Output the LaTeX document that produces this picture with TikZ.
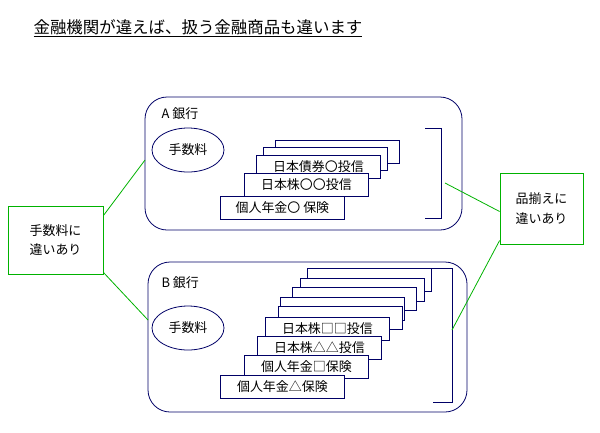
\documentclass[tikz,border=0pt]{standalone}
\usepackage{fontspec}
\setmainfont{Noto Sans CJK JP}
\usetikzlibrary{arrows.meta}
\begin{document}
\begin{tikzpicture}[x=1bp,y=-1bp,
    bank/.style={draw=blue!40!black, thick, rounded corners=22bp},
    prod/.style={draw=blue!40!black, thick, fill=white, minimum width=124bp, minimum height=23bp, inner sep=0pt, font=\fontsize{13}{13}\selectfont},
    note/.style={draw=green!70!black, fill=white, thick, align=center, inner sep=0pt, font=\fontsize{13}{20}\selectfont},
    link/.style={green!70!black, thick}]
    \useasboundingbox (0,0) rectangle (600,432);
    % Title
    \node[font=\fontsize{16.5}{16}\selectfont] (title) at (198,28) {\underline{金融機関が違えば、扱う金融商品も違います}};

    % A bank
    \draw[bank] (145,97) rectangle (462,230);
    \node[anchor=west, font=\fontsize{13}{13}\selectfont] (nameA) at (158,114) {A 銀行};
    \draw[blue!40!black, thick] (188,150) ellipse [x radius=36, y radius=22];
    \node[font=\fontsize{13}{13}\selectfont] (feeA) at (188,150) {手数料};
    \node[prod, anchor=north west] (a1) at (275,140) {};
    \node[prod, anchor=north west] (a2) at (263,147) {};
    \node[prod, anchor=north west] (a3) at (256,155) {日本債券〇投信};
    \node[prod, anchor=north west] (a4) at (244,173) {日本株〇〇投信};
    \node[prod, anchor=north west] (a5) at (220,196) {個人年金〇 保険};
    \coordinate (ba1) at (425,128);
    \coordinate (ba2) at (441,128);
    \coordinate (ba3) at (441,218);
    \coordinate (ba4) at (425,218);
    \draw[blue!40!black, thick] (ba1) -- (ba2) -- (ba3) -- (ba4);

    % B bank
    \draw[bank] (148,262) rectangle (467,412);
    \node[anchor=west, font=\fontsize{13}{13}\selectfont] (nameB) at (158,283) {B 銀行};
    \draw[blue!40!black, thick] (188,328) ellipse [x radius=36, y radius=22];
    \node[font=\fontsize{13}{13}\selectfont] (feeB) at (188,328) {手数料};
    \foreach \i/\x/\y in {1/307/268, 2/300/278, 3/292/287, 4/280/297, 5/278/306}
        \node[prod, anchor=north west] (b\i) at (\x,\y) {};
    \node[prod, anchor=north west] (b6) at (265,317) {日本株□□投信};
    \node[prod, anchor=north west] (b7) at (257,336) {日本株△△投信};
    \node[prod, anchor=north west] (b8) at (244,355) {個人年金□保険};
    \node[prod, anchor=north west] (b9) at (220,375) {個人年金△保険};
    \coordinate (bb1) at (432,268);
    \coordinate (bb2) at (452,268);
    \coordinate (bb3) at (452,402);
    \coordinate (bb4) at (433,402);
    \draw[blue!40!black, thick] (bb1) -- (bb2) -- (bb3) -- (bb4);

    % Notes
    \node[note, minimum width=95bp, minimum height=68bp] (feeNote) at (55.5,240) {手数料に\\違いあり};
    \node[note, minimum width=83bp, minimum height=71bp] (lineNote) at (541.5,208.5) {品揃えに\\違いあり};
    \coordinate (ea) at (145,160);
    \coordinate (eb) at (148,320);
    \coordinate (ma) at (445,183);
    \coordinate (mb) at (452,330);
    \draw[link] (feeNote.north east) ++(0,10) -- (ea);
    \draw[link] (feeNote.south east) ++(0,-2) -- (eb);
    \draw[link] (ma) -- ([yshift=-3bp]lineNote.west);
    \draw[link] (mb) -- ([yshift=-32bp]lineNote.west);
\end{tikzpicture}
\end{document}
